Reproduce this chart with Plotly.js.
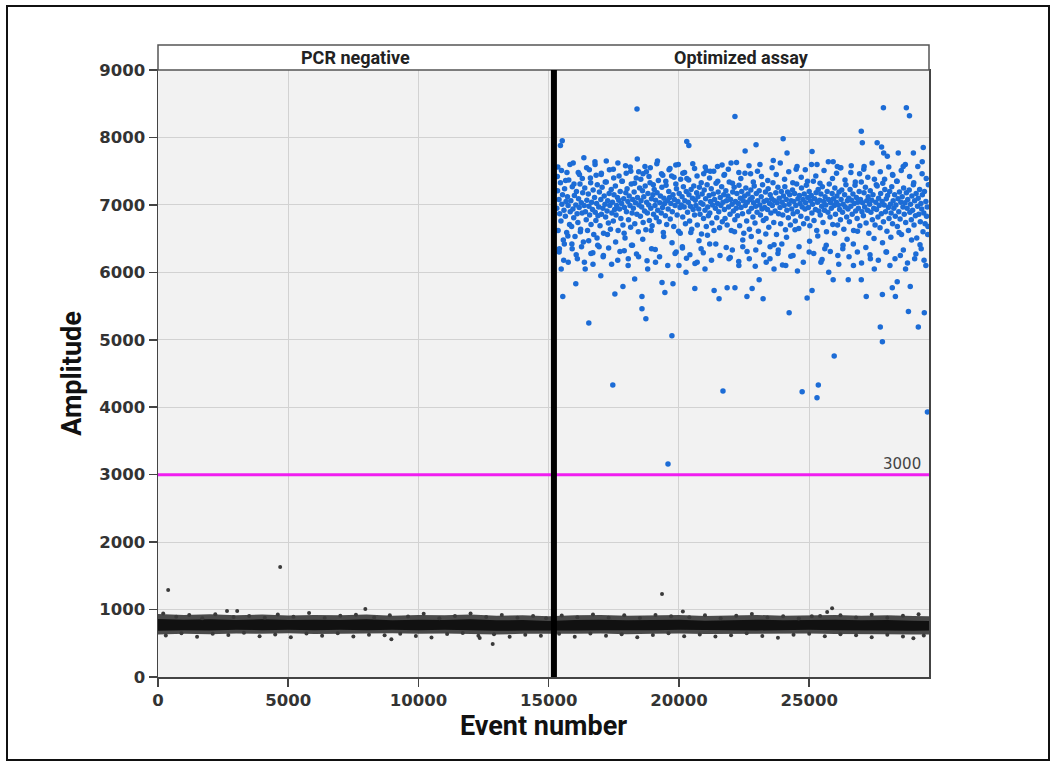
<!DOCTYPE html>
<html>
<head>
<meta charset="utf-8">
<script src="https://cdn.plot.ly/plotly-3.0.1.min.js"></script>
<style>
  html, body { margin: 0; padding: 0; background: #fff; }
  #chart { position: absolute; left: 0; top: 0; width: 1055px; height: 768px; }
  #frame { position: absolute; left: 6px; top: 5px; width: 1040px; height: 752px; border: 2px solid #111; pointer-events: none; }
</style>
</head>
<body>
<div id="chart"></div>
<div id="frame"></div>
<script>
// ---------------- DATA ----------------
const xTickVals = [0, 5000, 10000, 15000, 20000, 25000];
const yTickVals = [0, 1000, 2000, 3000, 4000, 5000, 6000, 7000, 8000, 9000];
const panelLabels = ["PCR negative", "Optimized assay"];
const panelCenters = [7600, 22400];
const wellBoundary = 15200;
const threshold = 3000;

// Negative-droplet band (dense cluster) envelopes
const bandEvent = [0,1000,2000,3000,4000,5000,6000,7000,8000,9000,10000,11000,12000,13000,14000,15000,16000,17000,18000,19000,20000,21000,22000,23000,24000,25000,26000,27000,28000,29000,29600];
const bandOuterLow  = [630,640,635,645,640,648,638,645,642,648,640,645,638,630,640,635,640,645,635,640,645,638,642,635,640,645,638,640,635,630,632];
const bandOuterHigh = [935,920,930,915,925,912,920,915,925,910,920,915,925,910,915,900,915,920,910,915,920,905,915,920,910,915,920,910,915,905,900];
const bandInnerLow  = [685,695,690,700,695,700,692,700,695,702,695,700,692,685,690,685,690,695,690,695,700,692,695,690,695,700,692,695,690,685,688];
const bandInnerHigh = [860,850,855,845,855,845,850,845,855,840,850,845,855,840,845,830,845,850,840,845,850,835,845,850,840,845,850,840,845,835,830];

// Negative droplets at the edges of the band and outliers
const blackEvent = [200,700,1200,1700,2200,2900,3500,4100,4600,5200,5800,6400,7000,7600,8300,8900,9600,10200,10800,11400,12000,12600,13200,13800,14400,14900,15500,16100,16700,17300,17900,18500,19100,19700,20400,21000,21600,22200,22800,23400,24000,24600,25100,26200,26800,27400,28000,28600,29200,
  300,900,1500,2100,2700,3300,3900,4500,5100,5700,6300,6900,7500,8100,8700,9300,9900,10500,11100,11700,12300,12900,13500,14100,14700,15400,16000,16600,17200,17800,18400,19000,19600,20200,20800,21400,22000,22600,23200,23800,24400,25000,25600,26200,26800,27400,28000,28600,29000,29400,
  390,4690,2650,3040,7960,8960,12350,12850,19350,20150,25420,25690,25880];
const blackAmp = [940,895,918,870,932,888,905,880,925,892,948,876,910,922,884,915,898,938,872,906,942,890,918,878,903,870,912,886,928,880,914,874,921,900,887,916,872,908,934,884,899,868,902,915,881,924,877,909,929,
  615,648,598,640,622,655,605,632,590,645,612,650,600,628,618,642,608,585,636,652,610,633,595,628,612,640,598,646,610,635,590,622,650,604,632,600,620,647,608,582,626,642,606,634,618,588,628,600,575,615,
  1290,1630,980,980,1010,560,580,490,1230,970,905,965,1020];

// Positive droplets: dense cluster
const blueCoreEvent = [
15310,15340,15360,15395,15420,15450,15470,15505,15530,15560,15585,15610,15640,15665,15690,15720,15745,15770,15800,15825,
15850,15880,15905,15930,15960,15985,16010,16040,16065,16090,16120,16145,16170,16200,16225,16250,16280,16305,16330,16360,
16385,16410,16440,16465,16490,16520,16545,16570,16600,16625,16650,16680,16705,16730,16760,16785,16810,16840,16865,16890,
16920,16945,16970,17000,17025,17050,17080,17105,17130,17160,17185,17210,17240,17265,17290,17320,17345,17370,17400,17425,
17450,17480,17505,17530,17560,17585,17610,17640,17665,17690,17720,17745,17770,17800,17825,17850,17880,17905,17930,17960,
17985,18010,18040,18065,18090,18120,18145,18170,18200,18225,18250,18280,18305,18330,18360,18385,18410,18440,18465,18490,
18520,18545,18570,18600,18625,18650,18680,18705,18730,18760,18785,18810,18840,18865,18890,18920,18945,18970,19000,19025,
19050,19080,19105,19130,19160,19185,19210,19240,19265,19290,19320,19345,19370,19400,19425,19450,19480,19505,19530,19560,
19585,19610,19640,19665,19690,19720,19745,19770,19800,19825,19850,19880,19905,19930,19960,19985,20010,20040,20065,20090,
20120,20145,20170,20200,20225,20250,20280,20305,20330,20360,20385,20410,20440,20465,20490,20520,20545,20570,20600,20625,
20650,20680,20705,20730,20760,20785,20810,20840,20865,20890,20920,20945,20970,21000,21025,21050,21080,21105,21130,21160,
21185,21210,21240,21265,21290,21320,21345,21370,21400,21425,21450,21480,21505,21530,21560,21585,21610,21640,21665,21690,
21720,21745,21770,21800,21825,21850,21880,21905,21930,21960,21985,22010,22040,22065,22090,22120,22145,22170,22200,22225,
22250,22280,22305,22330,22360,22385,22410,22440,22465,22490,22520,22545,22570,22600,22625,22650,22680,22705,22730,22760,
22785,22810,22840,22865,22890,22920,22945,22970,23000,23025,23050,23080,23105,23130,23160,23185,23210,23240,23265,23290,
23320,23345,23370,23400,23425,23450,23480,23505,23530,23560,23585,23610,23640,23665,23690,23720,23745,23770,23800,23825,
23850,23880,23905,23930,23960,23985,24010,24040,24065,24090,24120,24145,24170,24200,24225,24250,24280,24305,24330,24360,
24385,24410,24440,24465,24490,24520,24545,24570,24600,24625,24650,24680,24705,24730,24760,24785,24810,24840,24865,24890,
24920,24945,24970,25000,25025,25050,25080,25105,25130,25160,25185,25210,25240,25265,25290,25320,25345,25370,25400,25425,
25450,25480,25505,25530,25560,25585,25610,25640,25665,25690,25720,25745,25770,25800,25825,25850,25880,25905,25930,25960,
25985,26010,26040,26065,26090,26120,26145,26170,26200,26225,26250,26280,26305,26330,26360,26385,26410,26440,26465,26490,
26520,26545,26570,26600,26625,26650,26680,26705,26730,26760,26785,26810,26840,26865,26890,26920,26945,26970,27000,27025,
27050,27080,27105,27130,27160,27185,27210,27240,27265,27290,27320,27345,27370,27400,27425,27450,27480,27505,27530,27560,
27585,27610,27640,27665,27690,27720,27745,27770,27800,27825,27850,27880,27905,27930,27960,27985,28010,28040,28065,28090,
28120,28145,28170,28200,28225,28250,28280,28305,28330,28360,28385,28410,28440,28465,28490,28520,28545,28570,28600,28625,
28650,28680,28705,28730,28760,28785,28810,28840,28865,28890,28920,28945,28970,29000,29025,29050,29080,29105,29130,29160,
29185,29210,29240,29265,29290,29320,29345,29370,29400,29425,29450,29480,29505,29530,29560];
const blueCoreAmp = [
6950,7210,6620,7080,6870,7330,6760,7010,7150,6480,6920,7240,6830,7050,6590,7120,6990,7370,6710,6900,
7060,6680,7270,6940,6810,7140,6530,7000,7200,6870,6740,7090,6960,7310,6640,7030,6880,7180,6450,6990,
7250,6900,6780,7070,6620,7160,6980,6850,7400,6710,7040,6930,7220,6560,7110,6890,6770,7020,7300,6840,
6970,7190,6690,7080,6860,7260,6950,6580,7130,7010,6820,7340,6910,7060,6730,7170,6990,6640,7230,6880,
7040,6760,7150,6930,7280,6850,6990,7110,6620,7070,6940,7200,6800,7020,7350,6700,7090,6960,6510,7180,
6900,7240,7050,6780,7130,6990,6670,7310,6880,7080,6950,7190,6720,7030,7400,6860,7110,6600,7000,7250,
6830,7060,6970,7210,6740,7120,6910,7280,6630,7040,6880,7170,7000,6770,7330,6950,7090,6690,7150,6860,
7230,6990,7070,6810,7180,6920,7360,6750,7030,7130,6880,7260,6960,6590,7100,7020,6840,7290,6710,7060,
6940,7200,7110,6790,7020,7430,6900,7150,6680,7080,6990,7310,7240,6850,7050,6610,7170,6960,7380,7000,
7120,6820,7270,6970,7060,6720,7200,7390,6890,7040,7150,6760,6980,7230,6640,7100,6930,7280,6850,7070,
6990,7180,6700,7120,6940,7260,6860,7030,6570,7160,7010,6800,7220,6920,7090,6680,7300,6970,6840,7140,
6880,7050,7240,6730,7000,7160,6620,7080,6950,7320,6810,7020,7190,6900,6660,7110,6990,7270,6750,7040,
7150,6930,6800,7210,7060,6700,7130,6970,7340,6860,7080,6620,7010,7190,6910,7260,6780,7050,6950,7170,
6840,7020,7290,6690,7100,6960,7200,6870,7060,6580,7130,6990,7250,6760,7040,7160,6900,6640,7080,7220,
6950,7110,6820,7030,7280,6730,6980,7170,6890,7060,6610,7210,7000,6850,7120,6940,7300,6770,7050,6960,
7190,6800,7070,6930,7240,6670,7020,7150,6880,7090,6990,7330,6740,7060,6910,7180,6560,7030,7260,6870,
7100,6960,6720,7200,7040,6850,7130,6990,7270,6630,7080,6920,7190,6810,7010,7150,6700,7060,6940,7220,
6870,7050,7170,6760,6990,7310,6900,7090,6650,7140,7020,6830,7250,6970,7080,6720,7160,6940,7030,7290,
6800,7110,6960,7200,6690,7060,7140,6880,7010,7350,6770,7090,6930,7180,6620,7040,7230,6910,7070,6850,
7160,6980,7270,6740,7050,6920,7120,7000,6600,7200,6890,7080,7310,6820,7030,6950,7170,6710,7090,6990,
7250,6860,7040,7130,6700,7000,7190,6930,6780,7080,7220,6890,7010,6640,7150,6970,7300,6820,7060,6940,
7100,6750,7230,6980,7070,6860,7160,6620,7020,7290,6910,7110,6800,7040,6950,7200,6690,7080,7340,6900,
7030,6840,7180,6970,7260,6730,7060,6920,7120,6580,7010,7210,6890,7070,6780,7150,6950,7380,6700,7040,
6930,7280,6820,7100,6990,6660,7170,6870,7050,7320,6750,7000,7230,6900,7090,6610,7140,6960,6800,7200,
7010,6880,7270,6720,7060,6950,7150,6830,7000,7350,6680,7090,6900,7190,6790,7040,6560,7120,6970,7250,
6860,7030,6740,7180,6950,7080,6620,7220,6890,7010,6780,7130,6920,7300,6700,7060,6840,7170,6510,6980,
7100,6860,7230,6750,7020,6940,7150,6600,6880,7200,6720,7050,6830,6970,6680];

// Positive droplets: cluster shoulders (above and below the dense core)
const blueMidEvent = [
15330,15410,15490,15575,15650,15735,15815,15890,15970,16055,16135,16215,16290,16370,16455,16535,16610,16695,16775,16855,
16935,17015,17090,17170,17255,17330,17415,17495,17570,17655,17735,17810,17895,17975,18055,18130,18215,18295,18370,18455,
18535,18610,18695,18775,18850,18935,19015,19090,19175,19255,19330,19415,19495,19570,19655,19735,19810,19895,19975,20050,
20135,20215,20290,20375,20455,20530,20615,20695,20770,20855,20935,21010,21095,21175,21250,21335,21415,21490,21575,21655,
21730,21815,21895,21970,22055,22135,22210,22295,22375,22450,22535,22615,22690,22775,22855,22930,23015,23095,23170,23255,
23335,23410,23495,23575,23650,23735,23815,23890,23975,24055,24130,24215,24295,24370,24455,24535,24610,24695,24775,24850,
24935,25015,25090,25175,25255,25330,25415,25495,25570,25655,25735,25810,25895,25975,26050,26135,26215,26290,26375,26455,
26530,26615,26695,26770,26855,26935,27010,27095,27175,27250,27335,27415,27490,27575,27655,27730,27815,27895,27970,28055,
28135,28210,28295,28375,28450,28535,28615,28690,28775,28855,28930,29015,29095,29170,29255,29335,29410,29495,29550,29575];
const blueMidAmp = [
7420,6350,7510,6180,7360,6540,7600,6420,7310,6260,7480,6600,7390,6150,7550,6470,7330,6290,7640,6510,
6380,7450,6230,7340,6560,7520,6120,7400,6450,7620,6310,7350,6580,7470,6200,7560,6400,7320,6270,7490,
7380,6490,7570,6170,7420,6620,7300,6340,7650,6230,7460,6530,7350,6100,7540,6440,7410,6300,7600,6580,
6360,7480,6210,7370,6590,7610,6130,7430,6470,7330,6290,7560,6550,7400,6180,7500,6420,7350,6250,7590,
7440,6370,7530,6220,7320,6600,7630,6160,7390,6480,7470,6310,7580,6530,7340,6090,7500,6450,7420,6260,
6570,7360,6200,7550,6410,7450,6330,7620,6110,7380,6520,7490,6240,7330,6630,7570,6380,7410,6150,7520,
7350,6460,7600,6280,7430,6540,7320,6190,7510,6400,7640,6310,7390,6580,7470,6120,7550,6350,7370,6490,
6230,7580,6420,7340,6610,7460,6140,7530,6370,7410,6260,7620,6500,7300,6180,7490,6440,7380,6300,7560,
6520,7440,6200,7350,6590,7510,6330,7600,6140,7420,6480,7330,6270,7570,6410,7460,6180,7390,6560,7300];

// Positive droplets: sparse upper tail
const blueHighEvent = [15350,15450,15520,15700,15940,16180,16350,16560,16780,17020,17210,17480,17700,17950,18150,18390,18400,18620,18900,19150,19380,19620,19880,20150,20300,20380,20600,20950,21200,21480,21750,22000,22150,22300,22540,22960,23110,23620,24000,24150,25110,25300,25920,26080,26190,27000,27040,27110,27610,27780,27850,27860,28000,28420,28610,28730,28850,29000,29340,29380,16820,18750,21050,22750,24500,26600,28200];
const blueHighAmp   = [7560,7880,7950,7480,7620,7450,7700,7520,7600,7470,7650,7530,7430,7580,7500,8420,7680,7460,7550,7610,7440,7520,7590,7470,7940,7880,7540,7460,7500,7570,7450,7620,8310,7480,7800,7890,7600,7660,7980,7770,7790,7600,7640,7570,7550,8090,7920,7570,7920,7860,8440,7770,7720,7770,7570,8440,8320,7770,7640,7850,7440,7490,7510,7460,7530,7480,7450];

// Positive droplets: sparse lower tail and low outliers
const blueLowEvent = [15400,15480,15540,15600,15750,15900,16040,16100,16260,16400,16540,16620,16700,16880,17000,17100,17300,17460,17540,17650,17850,17900,18050,18180,18300,18450,18580,18580,18730,18800,18950,19100,19350,19460,19580,19730,19770,19850,20000,20130,20270,20420,20610,20700,20850,21000,21180,21350,21540,21690,21850,21920,22050,22150,22300,22450,22610,22700,22810,22950,23080,23230,23350,23500,23650,23800,23950,24100,24230,24380,24550,24730,24920,25000,25110,25300,25350,25450,25600,25750,25920,25960,26100,26300,26500,26700,26850,27000,27190,27350,27500,27730,27810,27810,27950,28100,28190,28310,28380,28500,28700,28810,28880,29050,29190,29300,29420,29540,29480];
const blueLowAmp   = [6300,6050,5640,6420,6150,6350,5830,6200,6380,6050,5250,6280,6120,6400,5950,6250,6360,4330,5680,6180,5790,6320,6100,6400,5900,6230,5640,5460,5310,6050,6350,6150,5850,5700,3160,5060,5830,6280,6100,6380,6000,6260,5760,6150,6350,6050,6420,5730,5610,4240,5770,6200,6330,5770,6100,6380,5640,6200,5760,6330,5890,5610,6150,6380,6050,6280,6420,6100,5400,6250,6020,4230,5620,6300,5730,4140,4330,6150,6350,6000,5890,4760,6250,6400,5890,6100,6300,5890,5640,6200,6050,5190,5670,4970,6300,6100,5770,5640,5860,6250,6050,5420,5790,6200,5190,6350,5400,3930,6100];

// ---------------- CHART ----------------
const blueCol = 'rgb(28,108,214)';
const blueMarker = { size: 5.5, color: blueCol };
const traces = [
  { x: bandEvent, y: bandOuterLow, type: 'scatter', mode: 'lines', line: { width: 0 }, hoverinfo: 'skip', showlegend: false },
  { x: bandEvent, y: bandOuterHigh, type: 'scatter', mode: 'lines', line: { width: 0 }, fill: 'tonexty', fillcolor: 'rgba(55,55,55,0.9)', hoverinfo: 'skip', showlegend: false },
  { x: bandEvent, y: bandInnerLow, type: 'scatter', mode: 'lines', line: { width: 0 }, hoverinfo: 'skip', showlegend: false },
  { x: bandEvent, y: bandInnerHigh, type: 'scatter', mode: 'lines', line: { width: 0 }, fill: 'tonexty', fillcolor: '#111', hoverinfo: 'skip', showlegend: false },
  { x: blackEvent, y: blackAmp, type: 'scatter', mode: 'markers', marker: { size: 4, color: '#3a3a3a' }, showlegend: false },
  { x: blueMidEvent, y: blueMidAmp, type: 'scatter', mode: 'markers', marker: blueMarker, showlegend: false },
  { x: blueCoreEvent, y: blueCoreAmp, type: 'scatter', mode: 'markers', marker: blueMarker, showlegend: false },
  { x: blueHighEvent, y: blueHighAmp, type: 'scatter', mode: 'markers', marker: blueMarker, showlegend: false },
  { x: blueLowEvent, y: blueLowAmp, type: 'scatter', mode: 'markers', marker: blueMarker, showlegend: false }
];

const tickFont = { family: 'DejaVu Sans, Verdana, sans-serif', size: 16.5, color: '#333', weight: 'bold' };
const titleFont = { family: 'Liberation Sans Narrow, Arial Narrow, Roboto, sans-serif', size: 27, color: '#111', weight: 'bold' };
const headFont = { family: 'Liberation Sans Narrow, Arial Narrow, Roboto, sans-serif', size: 18, color: '#222', weight: 'bold' };

const layout = {
  width: 1055, height: 768,
  margin: { l: 158, r: 126, t: 70, b: 91 },
  paper_bgcolor: '#ffffff',
  plot_bgcolor: '#f2f2f2',
  showlegend: false,
  xaxis: {
    range: [0, 29600], tickvals: xTickVals, ticktext: xTickVals.map(String),
    showgrid: true, gridcolor: '#d2d2d2', gridwidth: 1, zeroline: false,
    showline: true, linecolor: '#444', linewidth: 1.5, mirror: true,
    ticks: 'outside', ticklen: 8, tickcolor: '#444', tickwidth: 1.5,
    tickfont: tickFont,
    title: { text: 'Event number', font: titleFont, standoff: 4 }
  },
  yaxis: {
    range: [0, 9000], tickvals: yTickVals, ticktext: yTickVals.map(String),
    showgrid: true, gridcolor: '#d2d2d2', gridwidth: 1, zeroline: false,
    showline: true, linecolor: '#444', linewidth: 1.5, mirror: true,
    ticks: 'outside', ticklen: 8, tickcolor: '#444', tickwidth: 1.5,
    tickfont: tickFont,
    title: { text: 'Amplitude', font: titleFont, standoff: 10 }
  },
  shapes: [
    { type: 'rect', xref: 'paper', yref: 'paper', x0: 0, x1: 1, y0: 1, y1: 1 + 25 / 607, fillcolor: '#ffffff', line: { color: '#555', width: 1.5 } },
    { type: 'line', xref: 'paper', yref: 'y', x0: 0, x1: 1, y0: threshold, y1: threshold, line: { color: '#f01ef0', width: 3 } },
    { type: 'line', xref: 'x', yref: 'paper', x0: wellBoundary, x1: wellBoundary, y0: 0, y1: 1, line: { color: '#000', width: 6 } }
  ],
  annotations: [
    { xref: 'x', yref: 'paper', x: panelCenters[0], y: 1 + 12.5 / 607, text: panelLabels[0], showarrow: false, xanchor: 'center', yanchor: 'middle', font: headFont },
    { xref: 'x', yref: 'paper', x: panelCenters[1], y: 1 + 12.5 / 607, text: panelLabels[1], showarrow: false, xanchor: 'center', yanchor: 'middle', font: headFont },
    { xref: 'paper', yref: 'y', x: 0.992, y: threshold, text: String(threshold), showarrow: false, xanchor: 'right', yanchor: 'bottom', font: { family: 'DejaVu Sans, sans-serif', size: 15, color: '#444' } }
  ]
};

Plotly.newPlot('chart', traces, layout, { staticPlot: true, displayModeBar: false });
</script>
</body>
</html>
